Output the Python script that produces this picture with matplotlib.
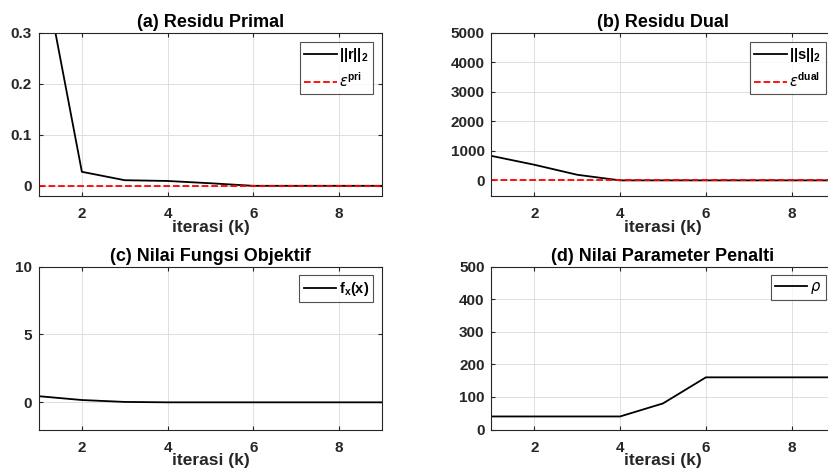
import matplotlib.pyplot as plt

plt.rcParams['font.family'] = ['Liberation Sans', 'DejaVu Sans']
plt.rcParams['font.weight'] = 'bold'
plt.rcParams['mathtext.fontset'] = 'custom'
plt.rcParams['mathtext.rm'] = 'Liberation Sans:bold'
plt.rcParams['mathtext.bf'] = 'Liberation Sans:bold'
plt.rcParams['mathtext.it'] = 'DejaVu Sans:italic:normal'

# iterations
k = [1, 2, 3, 4, 5, 6, 7, 8, 9]

# residuals and objective per iteration
r_norm = [0.47, 0.0275, 0.011, 0.0095, 0.005, 0.0, 0.0, 0.0, 0.0]
eps_pri = [0.0005] * 9
s_norm = [830, 530, 190, 0, 0, 0, 0, 0, 0]
eps_dual = [15] * 9
f_x = [0.45, 0.17, 0.03, 0.0, 0.0, 0.0, 0.0, 0.0, 0.0]
rho = [40, 40, 40, 40, 80, 160, 160, 160, 160]

x_ticks = [2, 4, 6, 8]
yticks_a = [0, 0.1, 0.2, 0.3]
yticklabels_a = ['0', '0.1', '0.2', '0.3']
yticks_b = [0, 1000, 2000, 3000, 4000, 5000]
yticks_c = [0, 5, 10]
yticks_d = [0, 100, 200, 300, 400, 500]

dark = '#262626'
W, H = 829, 469
fig = plt.figure(figsize=(W / 100, H / 100), dpi=100)

left_px = [39, 491.5]
top_px = [33, 266.5]
w = 343 / W
h = 163 / H

axes = {}
for row in range(2):
    for col in range(2):
        ax = fig.add_axes([left_px[col] / W, 1 - (top_px[row] + 163) / H, w, h])
        axes[(row, col)] = ax


def style(ax, title, ylim, yticks, yticklabels=None):
    ax.set_xlim(1, 9)
    ax.set_ylim(*ylim)
    ax.set_xticks(x_ticks)
    ax.set_yticks(yticks)
    if yticklabels is not None:
        ax.set_yticklabels(yticklabels)
    ax.grid(True, color='#dedede', linewidth=0.7)
    ax.set_axisbelow(True)
    for s in ax.spines.values():
        s.set_color(dark)
        s.set_linewidth(0.8)
    ax.tick_params(direction='in', length=3, colors=dark, labelsize=11,
                   top=True, right=True)
    ax.tick_params(axis='x', pad=8)
    ax.tick_params(axis='y', pad=5)
    for lab in ax.get_xticklabels() + ax.get_yticklabels():
        lab.set_fontweight('bold')
    ax.set_title(title, fontsize=13, fontweight='bold', color='black', pad=4)
    ax.set_xlabel('iterasi (k)', fontsize=12.5, fontweight='bold', color=dark, labelpad=-1)


def legend(ax):
    leg = ax.legend(loc='upper right', fontsize=10.5, frameon=True, fancybox=False,
                    edgecolor=dark, handlelength=2.2, handletextpad=0.2,
                    borderaxespad=0.6, borderpad=0.3, labelspacing=0.5)
    leg.get_frame().set_linewidth(0.8)


ax = axes[(0, 0)]
ax.plot(k, r_norm, color='black', lw=1.3, label=r'$\mathbf{||r||_2}$')
ax.plot(k, eps_pri, color='red', lw=1.3, ls='--', label=r'$\epsilon^{\mathbf{pri}}$')
style(ax, '(a) Residu Primal', (-0.02, 0.3), yticks_a, yticklabels_a)
legend(ax)

ax = axes[(0, 1)]
ax.plot(k, s_norm, color='black', lw=1.3, label=r'$\mathbf{||s||_2}$')
ax.plot(k, eps_dual, color='red', lw=1.3, ls='--', label=r'$\epsilon^{\mathbf{dual}}$')
style(ax, '(b) Residu Dual', (-530, 5000), yticks_b)
legend(ax)

ax = axes[(1, 0)]
ax.plot(k, f_x, color='black', lw=1.3, label=r'$\mathbf{f_x(x)}$')
style(ax, '(c) Nilai Fungsi Objektif', (-2, 10), yticks_c)
legend(ax)

ax = axes[(1, 1)]
ax.plot(k, rho, color='black', lw=1.3, label=r'$\rho$')
style(ax, '(d) Nilai Parameter Penalti', (0, 500), yticks_d)
legend(ax)

fig.savefig('out.png', dpi=100)
